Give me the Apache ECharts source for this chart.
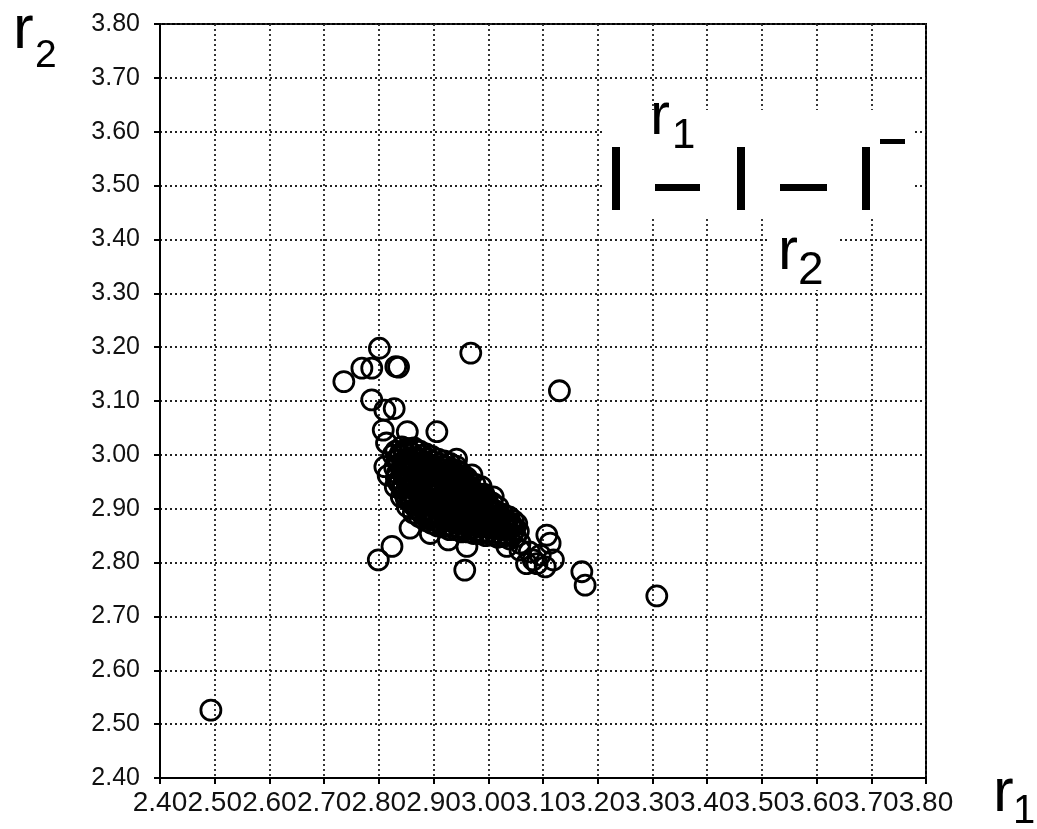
<!DOCTYPE html>
<html>
<head>
<meta charset="utf-8">
<script src="https://cdn.jsdelivr.net/npm/echarts@6/dist/echarts.min.js"></script>
<style>
html,body{margin:0;padding:0;background:#fff;}
#chart{width:1037px;height:829px;}
</style>
</head>
<body>
<div id="chart"></div>
<script>
// Axis ranges / ticks
const r1Min = 2.4, r1Max = 3.8, r2Min = 2.4, r2Max = 3.8, tickStep = 0.1;

// Readable individual points [r1, r2]
const outlierPoints = [
  [2.493,2.526],[3.308,2.738],[3.171,2.783],[3.177,2.758],[3.130,3.119],[2.968,3.189],
  [2.801,3.198],[2.736,3.136],[2.769,3.161],[2.787,3.161],[2.831,3.164],[2.836,3.163],
  [2.787,3.102],[2.811,3.083],[2.828,3.086],[2.808,3.046],[2.852,3.043],[2.906,3.043],
  [2.814,3.022],[2.826,3.000],[2.811,2.978],[2.817,2.962],[2.942,2.992],[2.970,2.963],[3.009,2.922],
  [2.857,2.864],[2.894,2.854],[2.927,2.842],[2.961,2.830],
  [2.824,2.830],[2.799,2.805],[2.957,2.786],
  [3.107,2.851],[3.113,2.836],[3.119,2.805],[3.089,2.798],[3.082,2.805],[3.104,2.792],[3.095,2.814],
  [3.058,2.823],[3.034,2.861],[3.043,2.867],[3.070,2.798],[3.034,2.830],[3.058,2.836],[3.075,2.820]
];

// Dense central cluster (estimated) [r1, r2]
const clusterPoints = [
  [2.830,2.941],[2.832,2.957],[2.829,2.976],[2.833,2.990],[2.831,3.007],
  [2.841,2.922],[2.843,2.937],[2.839,2.950],[2.842,2.968],[2.844,2.982],[2.840,2.999],[2.842,3.015],
  [2.852,2.904],[2.850,2.919],[2.854,2.933],[2.851,2.950],[2.853,2.964],[2.849,2.981],[2.855,2.995],[2.852,3.012],
  [2.863,2.892],[2.861,2.909],[2.865,2.923],[2.862,2.940],[2.864,2.954],[2.860,2.971],[2.866,2.985],[2.862,3.002],[2.864,3.013],
  [2.874,2.885],[2.872,2.898],[2.876,2.916],[2.873,2.929],[2.875,2.947],[2.871,2.960],[2.877,2.978],[2.873,2.991],[2.875,3.007],
  [2.885,2.878],[2.883,2.895],[2.887,2.909],[2.884,2.926],[2.886,2.940],[2.882,2.957],[2.888,2.971],[2.884,2.988],[2.886,3.002],
  [2.896,2.873],[2.894,2.886],[2.898,2.904],[2.895,2.917],[2.897,2.935],[2.893,2.948],[2.899,2.966],[2.895,2.979],[2.897,2.997],
  [2.907,2.868],[2.905,2.885],[2.909,2.899],[2.906,2.916],[2.908,2.930],[2.904,2.947],[2.910,2.961],[2.906,2.978],[2.908,2.992],
  [2.918,2.866],[2.916,2.879],[2.920,2.897],[2.917,2.910],[2.919,2.928],[2.915,2.941],[2.921,2.959],[2.917,2.972],[2.919,2.989],
  [2.929,2.861],[2.927,2.878],[2.931,2.892],[2.928,2.909],[2.930,2.923],[2.926,2.940],[2.932,2.954],[2.928,2.971],[2.930,2.984],
  [2.940,2.861],[2.938,2.874],[2.942,2.891],[2.939,2.905],[2.941,2.922],[2.937,2.936],[2.943,2.953],[2.939,2.967],[2.941,2.979],
  [2.951,2.857],[2.949,2.874],[2.953,2.887],[2.950,2.905],[2.952,2.918],[2.948,2.936],[2.954,2.949],[2.950,2.967],
  [2.962,2.857],[2.960,2.870],[2.964,2.887],[2.961,2.901],[2.963,2.918],[2.959,2.932],[2.965,2.949],[2.961,2.957],
  [2.973,2.854],[2.971,2.871],[2.975,2.884],[2.972,2.901],[2.974,2.914],[2.970,2.932],[2.976,2.945],
  [2.984,2.854],[2.982,2.867],[2.986,2.884],[2.983,2.897],[2.985,2.914],[2.981,2.928],[2.987,2.941],
  [2.995,2.850],[2.993,2.867],[2.997,2.880],[2.994,2.897],[2.996,2.910],[2.992,2.927],
  [3.006,2.851],[3.004,2.864],[3.008,2.881],[3.005,2.894],[3.007,2.911],
  [3.017,2.847],[3.015,2.864],[3.019,2.877],[3.016,2.894],[3.018,2.903],
  [3.028,2.848],[3.026,2.861],[3.030,2.878],[3.027,2.890],
  [3.039,2.844],[3.037,2.861],[3.041,2.873],[3.038,2.885],
  [3.050,2.848],[3.048,2.861],[3.052,2.872]
];

// Further estimated points filling the solid core of the cluster [r1, r2]
const corePoints = [
  [2.836,2.948],[2.837,2.983],[2.847,2.928],[2.846,2.958],[2.848,2.990],[2.858,2.912],[2.857,2.943],[2.858,2.975],[2.857,3.005],
  [2.868,2.901],[2.869,2.932],[2.868,2.963],[2.869,2.995],[2.879,2.890],[2.880,2.921],[2.879,2.952],[2.880,2.983],
  [2.890,2.882],[2.891,2.913],[2.890,2.944],[2.891,2.976],[2.901,2.878],[2.902,2.909],[2.901,2.940],[2.902,2.971],
  [2.912,2.873],[2.913,2.904],[2.912,2.935],[2.913,2.966],[2.923,2.870],[2.924,2.901],[2.923,2.932],[2.924,2.963],
  [2.934,2.867],[2.935,2.898],[2.934,2.929],[2.935,2.960],[2.945,2.866],[2.946,2.896],[2.945,2.927],[2.946,2.958],
  [2.956,2.863],[2.957,2.894],[2.956,2.925],[2.957,2.941],[2.967,2.862],[2.968,2.893],[2.967,2.924],[2.968,2.938],
  [2.978,2.860],[2.979,2.890],[2.978,2.921],[2.989,2.858],[2.990,2.889],[2.989,2.918],[3.000,2.857],[3.001,2.887],[3.000,2.904],
  [3.011,2.856],[3.012,2.885],[3.022,2.854],[3.023,2.883],[3.033,2.853],[3.034,2.870],[3.044,2.852],[3.045,2.867]
];

const innerPoints = [
  [2.834,2.966],[2.838,3.000],[2.845,2.944],[2.846,2.975],[2.847,3.006],[2.855,2.925],[2.856,2.957],[2.856,2.988],
  [2.866,2.915],[2.867,2.946],[2.866,2.978],[2.867,3.009],[2.877,2.906],[2.878,2.937],[2.877,2.968],[2.878,2.999],
  [2.888,2.899],[2.889,2.930],[2.888,2.961],[2.889,2.993],[2.899,2.893],[2.900,2.924],[2.899,2.955],[2.900,2.987],
  [2.910,2.889],[2.911,2.920],[2.910,2.951],[2.911,2.983],[2.921,2.884],[2.922,2.915],[2.921,2.946],[2.922,2.978],
  [2.932,2.881],[2.933,2.912],[2.932,2.943],[2.933,2.974],[2.943,2.880],[2.944,2.911],[2.943,2.942],[2.944,2.970],
  [2.954,2.878],[2.955,2.909],[2.954,2.940],[2.955,2.958],[2.965,2.876],[2.966,2.907],[2.965,2.935],
  [2.976,2.875],[2.977,2.905],[2.976,2.930],[2.987,2.872],[2.988,2.903],[2.987,2.925],[2.998,2.870],[2.999,2.900],[2.998,2.915],
  [3.009,2.869],[3.010,2.898],[3.020,2.868],[3.021,2.889],[3.031,2.866],[3.042,2.864],[3.046,2.878],[3.055,2.858]
];

const axisTitleX = 'r', axisTitleXSub = '1';
const axisTitleY = 'r', axisTitleYSub = '2';

const chart = echarts.init(document.getElementById('chart'), null, {renderer:'canvas'});
const labelFont = '"Liberation Sans", Arial, sans-serif';
const gridLine = {show:true, lineStyle:{color:'#222', width:1.8, type:[2,3]}};
const ringStyle = {color:'rgba(0,0,0,0)', borderColor:'#000', borderWidth:2.8, opacity:1};

const option = {
  animation:false,
  backgroundColor:'#fff',
  grid:{left:160, top:24, width:766, height:754, show:true, borderColor:'#000', borderWidth:2, backgroundColor:'transparent'},
  xAxis:{
    type:'value', min:r1Min, max:r1Max, interval:tickStep,
    axisLine:{show:true, onZero:false, lineStyle:{color:'#000', width:2}},
    axisTick:{show:true, length:6, lineStyle:{color:'#000', width:2}},
    splitLine:gridLine,
    axisLabel:{show:true, interval:0, hideOverlap:false, showMinLabel:true, showMaxLabel:true,
      formatter:v=>v.toFixed(2), fontFamily:labelFont, fontSize:28, color:'#111', margin:11}
  },
  yAxis:{
    type:'value', min:r2Min, max:r2Max, interval:tickStep,
    axisLine:{show:true, onZero:false, lineStyle:{color:'#000', width:2}},
    axisTick:{show:true, length:6, lineStyle:{color:'#000', width:2}},
    splitLine:gridLine,
    axisLabel:{show:true, interval:0, hideOverlap:false, showMinLabel:true, showMaxLabel:true,
      formatter:v=>v.toFixed(2), fontFamily:labelFont, fontSize:25, color:'#111', margin:20}
  },
  series:[
    {type:'scatter', data:clusterPoints, symbol:'circle', symbolSize:20, itemStyle:ringStyle, silent:true},
    {type:'scatter', data:corePoints, symbol:'circle', symbolSize:20, itemStyle:ringStyle, silent:true},
    {type:'scatter', data:innerPoints, symbol:'circle', symbolSize:20, itemStyle:ringStyle, silent:true},
    {type:'scatter', data:outlierPoints, symbol:'circle', symbolSize:20, itemStyle:ringStyle, silent:true}
  ],
  graphic:[
    // axis titles
    {type:'text', z:100, style:{x:13, y:31, text:axisTitleY, font:'62px Liberation Sans, Arial, sans-serif', fill:'#000', verticalAlign:'middle', textAlign:'left'}},
    {type:'text', z:100, style:{x:35, y:56, text:axisTitleYSub, font:'39px Liberation Sans, Arial, sans-serif', fill:'#000', verticalAlign:'middle', textAlign:'left'}},
    {type:'text', z:100, style:{x:993, y:794, text:axisTitleX, font:'62px Liberation Sans, Arial, sans-serif', fill:'#000', verticalAlign:'middle', textAlign:'left'}},
    {type:'text', z:100, style:{x:1013, y:812, text:axisTitleXSub, font:'40px Liberation Sans, Arial, sans-serif', fill:'#000', verticalAlign:'middle', textAlign:'left'}},
    // inset symbol background
    {type:'rect', z:90, shape:{x:604, y:110, width:308, height:107}, style:{fill:'#fff'}},
    {type:'rect', z:90, shape:{x:768, y:217, width:70, height:73}, style:{fill:'#fff'}},
    // inset symbol
    {type:'text', z:100, style:{x:650, y:117, text:'r', font:'60px Liberation Sans, Arial, sans-serif', fill:'#000', verticalAlign:'middle', textAlign:'left'}},
    {type:'text', z:100, style:{x:672, y:136, text:'1', font:'42px Liberation Sans, Arial, sans-serif', fill:'#000', verticalAlign:'middle', textAlign:'left'}},
    {type:'rect', z:100, shape:{x:612, y:147, width:8, height:63}, style:{fill:'#000'}},
    {type:'rect', z:100, shape:{x:655, y:184, width:45, height:7}, style:{fill:'#000'}},
    {type:'rect', z:100, shape:{x:737, y:147, width:8, height:63}, style:{fill:'#000'}},
    {type:'rect', z:100, shape:{x:780, y:184, width:47, height:7}, style:{fill:'#000'}},
    {type:'rect', z:100, shape:{x:862, y:147, width:8, height:63}, style:{fill:'#000'}},
    {type:'rect', z:100, shape:{x:880, y:139, width:25, height:5}, style:{fill:'#000'}},
    {type:'text', z:100, style:{x:778, y:252, text:'r', font:'60px Liberation Sans, Arial, sans-serif', fill:'#000', verticalAlign:'middle', textAlign:'left'}},
    {type:'text', z:100, style:{x:798, y:271, text:'2', font:'46px Liberation Sans, Arial, sans-serif', fill:'#000', verticalAlign:'middle', textAlign:'left'}}
  ]
};
chart.setOption(option);
</script>
</body>
</html>
